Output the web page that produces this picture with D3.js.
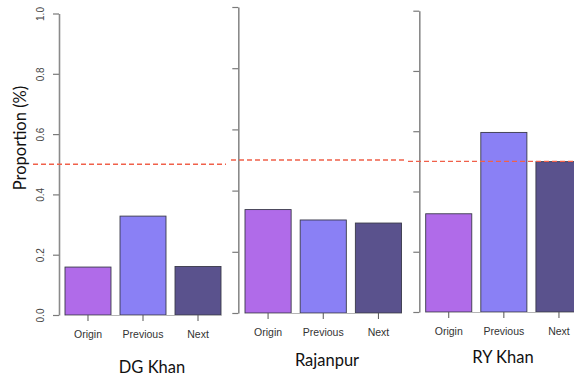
<!DOCTYPE html>
<html>
<head>
<meta charset="utf-8">
<script src="https://cdn.jsdelivr.net/npm/d3@7"></script>
<style>
  body { margin: 0; background: #fff; }
  svg { display: block; }
</style>
</head>
<body>
<div id="vis"></div>
<script>
// data
var regions = ["DG Khan", "Rajanpur", "RY Khan"],
  groups = ["Origin", "Previous", "Next"],
  dgKhan = [0.159, 0.328, 0.161],
  rajanpur = [0.338, 0.304, 0.294],
  ryKhan = [0.326, 0.596, 0.499],
  threshold = 0.5,
  yTicks = [0, 0.2, 0.4, 0.6, 0.8, 1.0];

var values = [dgKhan, rajanpur, ryKhan],
  colors = ["#b06be9", "#8a80f5", "#5a528d"];

// each panel is a separate R plot pasted side by side, so each has its own frame
var panels = [
  {axisX: 59, top: 13.5, bottom: 315, bars: [65, 221], line: [33, 226], labelY: 338, titleX: 152, titleY: 373, tickLabels: true},
  {axisX: 238.3, top: 7, bottom: 313, bars: [245, 401.5], line: [231, 405], labelY: 336, titleX: 327, titleY: 366, tickLabels: false},
  {axisX: 419.3, top: 10.7, bottom: 312, bars: [425.7, 582], line: [408, 574], labelY: 335, titleX: 503, titleY: 363, tickLabels: false}
];

var width = 574, height = 380;

var svg = d3.select("#vis").append("svg")
  .attr("width", width)
  .attr("height", height);

panels.forEach(function(p, i) {
  var g = svg.append("g");

  var y = d3.scaleLinear().domain([0, 1]).range([p.bottom, p.top]);
  var x = d3.scaleBand().domain(groups).range(p.bars).paddingInner(0.164).paddingOuter(0);

  // bars
  g.selectAll("rect")
    .data(values[i])
    .enter().append("rect")
    .attr("x", function(d, j) { return x(groups[j]); })
    .attr("y", function(d) { return y(d); })
    .attr("width", x.bandwidth())
    .attr("height", function(d) { return y(0) - y(d); })
    .style("fill", function(d, j) { return colors[j]; })
    .style("stroke", "#3a3a4a")
    .style("stroke-width", 0.9);

  // y axis
  var yAxis = d3.axisLeft(y).tickValues(yTicks).tickSizeInner(6).tickSizeOuter(0)
    .tickFormat(p.tickLabels ? d3.format(".1f") : "");
  var ya = g.append("g")
    .attr("transform", "translate(" + p.axisX + ",0)")
    .call(yAxis);
  ya.select(".domain").style("stroke", "#8a8a8a").style("stroke-width", 1.6);
  ya.selectAll(".tick line").style("stroke", "#7a7a7a").style("stroke-width", 1.2);
  ya.selectAll(".tick text")
    .attr("x", null).attr("dy", null)
    .attr("transform", "translate(-15.5,0) rotate(-90)")
    .style("text-anchor", "middle")
    .style("font-family", "'Liberation Sans', Arial, sans-serif")
    .style("font-size", "10px")
    .style("fill", "#444");

  // x axis
  var xAxis = d3.axisBottom(x).tickSizeInner(6).tickSizeOuter(0);
  var xa = g.append("g")
    .attr("transform", "translate(0," + p.bottom + ")")
    .call(xAxis);
  xa.select(".domain").style("stroke", "#b5b5b5").style("stroke-width", 1);
  xa.selectAll(".tick line").style("stroke", "#555").style("stroke-width", 1);
  xa.selectAll(".tick text")
    .attr("y", p.labelY - p.bottom).attr("dy", null)
    .style("font-family", "'Liberation Sans', Arial, sans-serif")
    .style("font-size", "10.5px")
    .style("fill", "#333");

  // threshold line
  g.append("line")
    .attr("x1", p.line[0]).attr("x2", p.line[1])
    .attr("y1", y(threshold)).attr("y2", y(threshold))
    .style("stroke", "#f0604a")
    .style("stroke-width", 1.3)
    .style("stroke-dasharray", "5,3");

  // panel title
  g.append("text")
    .attr("x", p.titleX).attr("y", p.titleY)
    .style("text-anchor", "middle")
    .style("font-family", "Lato, 'Open Sans', sans-serif")
    .style("font-size", "16.5px")
    .style("fill", "#111")
    .text(regions[i]);
});

// y axis title
svg.append("text")
  .attr("transform", "translate(26,138) rotate(-90)")
  .style("text-anchor", "middle")
  .style("font-family", "Lato, 'Open Sans', sans-serif")
  .style("font-size", "16.5px")
  .style("fill", "#111")
  .text("Proportion (%)");
</script>
</body>
</html>
